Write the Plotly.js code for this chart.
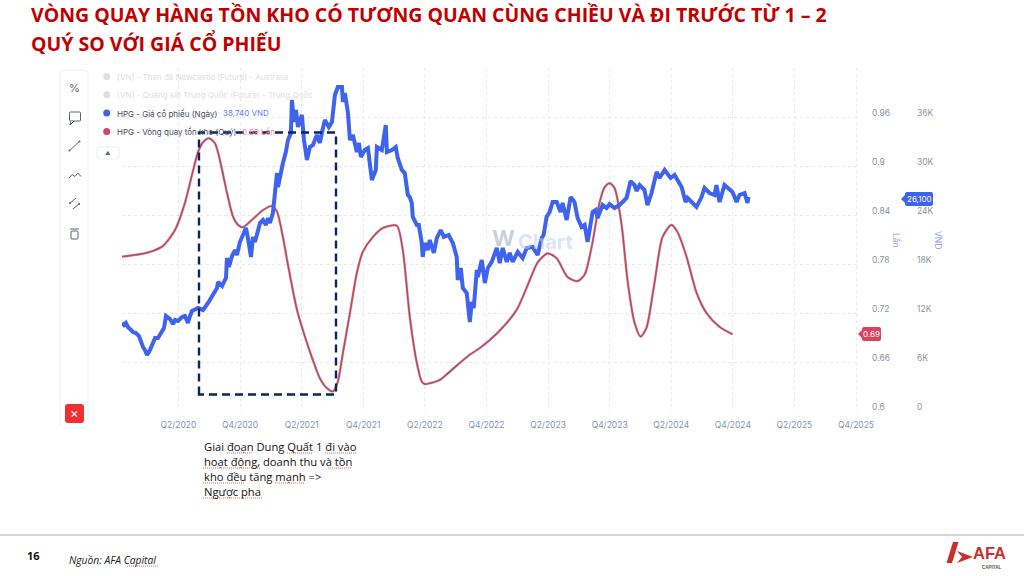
<!DOCTYPE html>
<html><head><meta charset="utf-8">
<script src="https://cdn.plot.ly/plotly-3.0.1.min.js"></script>
<style>html,body{margin:0;padding:0;background:#fff}#c{width:1024px;height:576px}</style>
</head><body><div id="c"></div>
<script>
const quarterTickValues=[2020.25,2020.75,2021.25,2021.75,2022.25,2022.75,2023.25,2023.75,2024.25,2024.75,2025.25,2025.75];
const quarterTickLabels=["Q2/2020","Q4/2020","Q2/2021","Q4/2021","Q2/2022","Q4/2022","Q2/2023","Q4/2023","Q2/2024","Q4/2024","Q2/2025","Q4/2025"];
const turnTickValues=[0.6,0.66,0.72,0.78,0.84,0.9,0.96,1.02];
const turnTickLabels=["0.6","0.66","0.72","0.78","0.84","0.9","0.96",""];
const priceTickValues=[0,6,12,18,24,30,36,42];
const priceTickLabels=["0","6K","12K","18K","24K","30K","36K",""];
const priceYear=[2019.792,2019.808,2019.824,2019.840,2019.881,2019.905,2019.930,2019.946,2019.962,2019.978,2019.995,2020.019,2020.043,2020.060,2020.084,2020.100,2020.116,2020.133,2020.149,2020.181,2020.206,2020.222,2020.246,2020.279,2020.303,2020.327,2020.344,2020.360,2020.409,2020.449,2020.490,2020.522,2020.563,2020.571,2020.604,2020.636,2020.644,2020.660,2020.685,2020.709,2020.725,2020.749,2020.774,2020.798,2020.814,2020.839,2020.855,2020.871,2020.895,2020.912,2020.936,2020.960,2020.977,2020.993,2021.017,2021.033,2021.050,2021.058,2021.082,2021.098,2021.122,2021.139,2021.163,2021.171,2021.187,2021.204,2021.220,2021.252,2021.269,2021.293,2021.317,2021.342,2021.374,2021.398,2021.423,2021.439,2021.471,2021.496,2021.520,2021.544,2021.577,2021.585,2021.601,2021.626,2021.642,2021.666,2021.698,2021.715,2021.731,2021.763,2021.788,2021.820,2021.852,2021.861,2021.901,2021.933,2021.942,2021.982,2022.014,2022.030,2022.063,2022.087,2022.112,2022.128,2022.144,2022.152,2022.185,2022.201,2022.225,2022.233,2022.250,2022.274,2022.290,2022.323,2022.347,2022.379,2022.404,2022.444,2022.477,2022.509,2022.517,2022.542,2022.558,2022.590,2022.615,2022.631,2022.647,2022.672,2022.680,2022.712,2022.737,2022.761,2022.793,2022.817,2022.834,2022.858,2022.882,2022.915,2022.939,2022.963,2023.004,2023.044,2023.077,2023.125,2023.166,2023.198,2023.214,2023.238,2023.263,2023.287,2023.320,2023.352,2023.368,2023.401,2023.433,2023.465,2023.490,2023.522,2023.547,2023.571,2023.612,2023.636,2023.652,2023.693,2023.725,2023.749,2023.790,2023.830,2023.871,2023.887,2023.920,2023.952,2023.968,2023.993,2024.033,2024.057,2024.090,2024.131,2024.155,2024.196,2024.245,2024.277,2024.334,2024.366,2024.382,2024.415,2024.455,2024.496,2024.520,2024.561,2024.601,2024.617,2024.642,2024.682,2024.723,2024.747,2024.780,2024.804,2024.845,2024.869,2024.877];
const priceK=[10.78,10.53,10.78,10.29,9.67,9.55,9.18,8.45,7.84,7.47,6.86,7.47,8.45,8.94,8.94,9.31,9.67,10.16,11.63,11.27,10.65,11.14,11.02,11.51,11.63,10.78,11.63,12.25,12.61,12.37,13.22,14.08,15.06,15.80,15.31,16.29,18.73,17.63,18.98,19.71,19.10,20.69,21.55,22.41,21.18,18.86,21.31,20.69,22.04,23.02,23.39,22.78,23.63,23.02,24.25,26.45,29.14,27.43,29.27,30.37,31.71,33.18,34.04,38.08,35.39,36.86,34.78,36.25,33.18,30.73,32.33,32.57,33.80,32.82,34.65,35.63,34.78,35.39,38.69,39.67,39.67,37.84,38.94,36.49,33.18,33.80,31.71,32.82,31.10,31.96,32.20,28.29,29.51,32.33,31.96,35.02,31.71,31.96,32.33,30.98,29.51,29.14,26.45,26.20,25.47,23.76,22.78,22.78,20.57,18.86,20.57,19.71,20.94,19.35,21.18,22.16,21.31,21.55,20.57,18.86,16.04,17.51,15.06,14.45,10.90,13.35,12.61,17.27,16.41,18.49,15.67,17.51,18.25,19.47,19.96,18.12,19.96,18.25,19.35,18.25,19.47,18.73,19.96,20.08,19.10,21.18,21.55,23.76,24.37,25.59,25.59,24.37,25.47,23.39,26.20,25.59,23.63,22.53,22.78,20.69,24.37,24.61,23.63,25.22,24.86,25.35,24.86,25.22,25.84,26.08,28.16,27.67,26.94,27.67,27.06,25.22,26.69,29.27,28.53,29.51,28.53,28.90,27.43,25.59,26.08,25.59,24.98,26.20,27.31,26.69,26.45,27.67,25.59,27.67,27.06,26.82,25.59,26.45,26.69,25.47,26.20];
const turnYear=[2019.792,2019.938,2020.043,2020.124,2020.181,2020.230,2020.303,2020.360,2020.409,2020.449,2020.498,2020.546,2020.587,2020.644,2020.693,2020.733,2020.774,2020.847,2020.936,2021.009,2021.050,2021.098,2021.139,2021.212,2021.277,2021.342,2021.398,2021.455,2021.504,2021.544,2021.585,2021.642,2021.698,2021.747,2021.828,2021.909,2022.022,2022.071,2022.128,2022.185,2022.225,2022.250,2022.371,2022.428,2022.615,2022.696,2022.842,2022.996,2023.101,2023.166,2023.247,2023.320,2023.409,2023.490,2023.547,2023.604,2023.668,2023.709,2023.749,2023.790,2023.847,2023.895,2023.952,2024.001,2024.049,2024.114,2024.179,2024.252,2024.301,2024.374,2024.455,2024.536,2024.642,2024.747];
const turnValue=[0.789,0.792,0.796,0.802,0.812,0.824,0.855,0.889,0.917,0.929,0.934,0.928,0.907,0.867,0.838,0.828,0.825,0.834,0.846,0.851,0.844,0.813,0.779,0.724,0.691,0.662,0.640,0.628,0.624,0.636,0.671,0.720,0.769,0.795,0.813,0.824,0.827,0.797,0.715,0.659,0.636,0.633,0.638,0.645,0.669,0.677,0.696,0.724,0.760,0.782,0.793,0.787,0.764,0.759,0.767,0.801,0.855,0.874,0.879,0.873,0.828,0.760,0.708,0.691,0.702,0.757,0.813,0.828,0.819,0.789,0.745,0.720,0.703,0.694];
const titleLines=["VÒNG QUAY HÀNG TỒN KHO CÓ TƯƠNG QUAN CÙNG CHIỀU VÀ ĐI TRƯỚC TỪ 1 – 2","QUÝ SO VỚI GIÁ CỔ PHIẾU"];
const noteLines=["Giai đoạn Dung Quất 1 đi vào","hoạt động, doanh thu và tồn","kho đều tăng mạnh =>","Ngược pha"];

const W=1024,H=576;
const fx=x=>x/W, fy=y=>1-y/H;
const shapes=[],ann=[];
function txt(x,y,t,size,color,o={}){ann.push(Object.assign({xref:'paper',yref:'paper',x:fx(x),y:fy(y),text:t,showarrow:false,xanchor:'left',yanchor:'middle',align:'left',borderpad:0,font:{size:size,color:color,family:o.family||'Inter, sans-serif'}},o.extra||{}));}
function ln(x0,y0,x1,y1,c,w,dash){shapes.push({type:'line',xref:'paper',yref:'paper',x0:fx(x0),y0:fy(y0),x1:fx(x1),y1:fy(y1),line:{color:c,width:w,dash:dash||'solid'}});}
function poly(pts,fill,c,w,close){let d=pts.map((p,i)=>(i?'L':'M')+fx(p[0])+' '+fy(p[1])).join(' ')+(close?' Z':'');shapes.push({type:'path',xref:'paper',yref:'paper',path:d,fillcolor:fill||'rgba(0,0,0,0)',line:{color:c||'rgba(0,0,0,0)',width:w||0}});}
function rrect(x0,y0,x1,y1,r,fill,c,w){const P=(x,y)=>fx(x)+' '+fy(y);let d=`M${P(x0+r,y0)} L${P(x1-r,y0)} Q${P(x1,y0)} ${P(x1,y0+r)} L${P(x1,y1-r)} Q${P(x1,y1)} ${P(x1-r,y1)} L${P(x0+r,y1)} Q${P(x0,y1)} ${P(x0,y1-r)} L${P(x0,y0+r)} Q${P(x0,y0)} ${P(x0+r,y0)} Z`;shapes.push({type:'path',xref:'paper',yref:'paper',path:d,fillcolor:fill,line:{color:c||'rgba(0,0,0,0)',width:w||0}});}
function dot(x,y,r,fill,c,w){shapes.push({type:'circle',xref:'paper',yref:'paper',x0:fx(x-r),x1:fx(x+r),y0:fy(y+r),y1:fy(y-r),fillcolor:fill,line:{color:c||fill,width:w||0}});}

// title
const titleFont='"Open Sans", sans-serif';
txt(30,15,'<b>'+titleLines[0]+'</b>',19.5,'#c00000',{family:titleFont});
txt(30,43,'<b>'+titleLines[1]+'</b>',19.5,'#c00000',{family:titleFont});

// toolbar
const ic='#5c6474';
rrect(60,70,88,428,5,'#ffffff','#f0f1f4',1);
txt(74,88,'%',11,ic,{extra:{xanchor:'center'}});
rrect(69.5,112,80.5,121,1,'rgba(0,0,0,0)',ic,1);poly([[71,121],[70,125],[74,121]],'#ffffff',ic,1);
ln(69,151,80,141,ic,1);dot(69.5,150.5,1,ic);dot(79.5,141.5,1,ic);
poly([[69,178],[72,174.5],[75,176.5],[78,173],[81,176.5]],null,ic,1);
ln(69,204,76,198,ic,1);ln(73,209,80,203,ic,1);dot(70,203,1,ic);dot(79,204,1,ic);
rrect(71,231,78,239,1,'rgba(0,0,0,0)',ic,1);ln(70,229,79,229,ic,1);
rrect(65,404,84,423,3,'#f03030');txt(74.5,413,'×',13,'#ffffff',{extra:{xanchor:'center'}});
rrect(97,147,119,159,2,'#ffffff','#eceef2',1);txt(108,152.5,'▲',5.5,ic,{extra:{xanchor:'center'}});

// legend
const off='#dcdfe4';
dot(106.7,76.5,3.5,off);txt(116,76.5,'[VN] - Than đá Newcastle (Future) - Australia',8,off);
dot(106.7,94.7,3.5,off);txt(116,94.7,'[VN] - Quặng sắt Trung Quốc (Future) - Trung Quốc',8,off);
dot(106.7,113,3.5,'#3e63ee');txt(116,113,'HPG - Giá cổ phiếu (Ngày)',8,'#454b57');txt(222,113,'38,740 VND',8,'#5f80f2');
dot(106.7,131.5,3.5,'#d8435f');txt(116,131.5,'HPG - Vòng quay tồn kho (Quý)',8,'#454b57');txt(241,131.5,'0.69 Lần',8,'#ec8298');

// watermark
txt(491,238,'<b>W</b>',22,'rgba(170,175,195,0.6)');
txt(517,242,'<b>Chart</b>',20,'rgba(190,205,250,0.55)');

// axis titles + tags
txt(897,240,'Lần',8.5,'#8aa4f5',{extra:{xanchor:'center',textangle:90}});
txt(938,240,'VND',8.5,'#8aa4f5',{extra:{xanchor:'center',textangle:90}});
rrect(905,192,933,206,2,'#3e63ee');poly([[905,195],[901,199],[905,203]],'#3e63ee',null,0,true);
txt(919,199,'26,100',8,'#ffffff',{extra:{xanchor:'center'}});
rrect(862,327,881,341,2,'#d8435f');poly([[862,330],[858,334],[862,338]],'#d8435f',null,0,true);
txt(871.5,334,'0.69',8,'#ffffff',{extra:{xanchor:'center'}});

// dashed box
const navy='#0b2560';
shapes.push({type:'path',xref:'paper',yref:'paper',path:`M${fx(199)} ${fy(394.5)} L${fx(199)} ${fy(132.5)} L${fx(336)} ${fy(132.5)} L${fx(336)} ${fy(394.5)} Z`,line:{color:navy,width:2.4,dash:'8px,5px'}});

// note
const noteFont='"Open Sans", sans-serif';
noteLines.forEach((t,i)=>txt(203,446+i*15.2,t,11.2,'#111111',{family:noteFont}));
[[227,253,453],[287,313,453],[325,357,453],[203,260,468],[328,352,468],[203,245,483],[275,305,483],[203,262,498]].forEach(s=>{
  ln(s[0],s[2],s[1],s[2],'#e04040',0.8,'1px,1px');
});

// footer
ln(0,535,1024,535,'#c9c9c9',1.5);
txt(26,555,'<b>16</b>',11,'#111111',{family:noteFont});
txt(68,560,'<i>Nguồn: AFA Capital</i>',10.3,'#222222',{family:noteFont});
ln(127,566,159,566,'#e04040',0.8,'1px,1px');
poly([[953,542],[958.5,542],[952,563],[946.5,563]],'#c9302c',null,0,true);
poly([[957,551],[973,557],[957,563],[962,557]],'#c9302c',null,0,true);
txt(972,553,'<b>AFA</b>',16.5,'#c9302c',{family:'"Liberation Sans", sans-serif'});
txt(981,567,'<b>CAPITAL</b>',4.5,'#555555',{family:'"Liberation Sans", sans-serif'});

// right-hand value labels sit a few pixels above their gridlines
const tickFont={size:8.5,color:'#8a93a6',family:'Inter, sans-serif'};
turnTickValues.forEach((v,i)=>{ if(turnTickLabels[i]) ann.push({xref:'paper',yref:'y',x:fx(871),y:v,yshift:4,text:turnTickLabels[i],showarrow:false,xanchor:'left',yanchor:'middle',borderpad:0,font:tickFont}); });
priceTickValues.forEach((v,i)=>{ if(priceTickLabels[i]) ann.push({xref:'paper',yref:'y2',x:fx(916),y:v,yshift:4,text:priceTickLabels[i],showarrow:false,xanchor:'left',yanchor:'middle',borderpad:0,font:tickFont}); });

const gridC='#e6e8ec';
const traces=[
 {x:turnYear,y:turnValue,type:'scatter',mode:'lines',yaxis:'y',line:{color:'rgba(110,110,110,0.35)',width:2.8,shape:'spline',smoothing:0.7},hoverinfo:'skip',name:'shadow'},
 {x:turnYear,y:turnValue,type:'scatter',mode:'lines',yaxis:'y',line:{color:'#c5445f',width:1.7,shape:'spline',smoothing:0.7},name:'HPG - Vòng quay tồn kho (Quý)'},
 {x:priceYear,y:priceK,type:'scatter',mode:'lines',yaxis:'y2',line:{color:'#3e63ee',width:4},name:'HPG - Giá cổ phiếu (Ngày)'}
];
const layout={width:W,height:H,margin:{l:0,r:0,t:0,b:0},paper_bgcolor:'#ffffff',plot_bgcolor:'#ffffff',showlegend:false,
 xaxis:{domain:[fx(122),fx(860)],range:[2019.792,2025.782],tickmode:'array',tickvals:quarterTickValues,ticktext:quarterTickLabels,tickfont:tickFont,tickangle:0,ticks:'',ticklabelstandoff:7,showgrid:true,gridcolor:gridC,griddash:'dot',gridwidth:1,zeroline:false,showline:false,anchor:'y'},
 yaxis:{domain:[fy(411),fy(68)],range:[0.6,1.02],anchor:'free',position:fx(869),side:'right',tickmode:'array',tickvals:turnTickValues,showticklabels:false,ticks:'',showgrid:true,gridcolor:gridC,griddash:'dot',gridwidth:1,zeroline:false,showline:false},
 yaxis2:{domain:[fy(411),fy(68)],range:[0,42],anchor:'free',overlaying:'y',position:fx(914),side:'right',tickmode:'array',tickvals:priceTickValues,showticklabels:false,ticks:'',showgrid:false,zeroline:false,showline:false},
 shapes:shapes,annotations:ann};
Plotly.newPlot('c',traces,layout,{displayModeBar:false,staticPlot:true});
</script></body></html>
